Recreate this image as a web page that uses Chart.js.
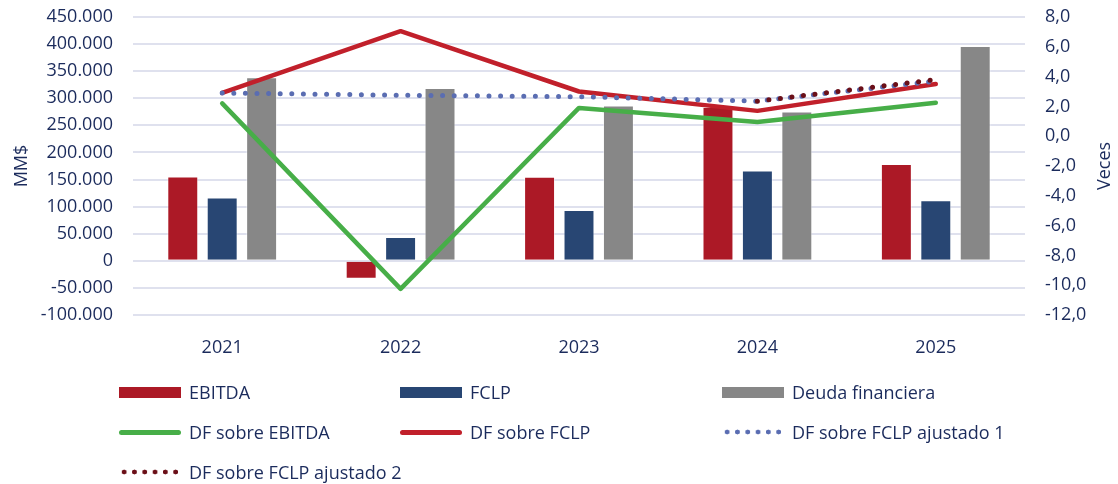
<!DOCTYPE html>
<html>
<head>
<meta charset="utf-8">
<script src="https://cdn.jsdelivr.net/npm/chart.js@4.4.1/dist/chart.umd.min.js"></script>
<style>
  html, body { margin: 0; padding: 0; background: #fff; }
  #wrap { position: relative; width: 1118px; height: 484px; overflow: hidden; }
  #legend { position: absolute; left: 0; top: 0; width: 1118px; height: 484px; pointer-events: none;
            font-family: "Open Sans", sans-serif; font-size: 18px; color: #1b2b5c; }
  .item { position: absolute; display: flex; align-items: center; height: 24px; }
  .swatch { width: 62px; margin-right: 8px; }
</style>
</head>
<body>
<div id="wrap">
  <canvas id="chart" width="1118" height="484"></canvas>
  <div id="legend"></div>
</div>
<script>
const years = ['2021', '2022', '2023', '2024', '2025'];
const ebitda = [155500, -33000, 155000, 284000, 178500];
const fclp = [117000, 44000, 94000, 166500, 112000];
const deudaFinanciera = [339000, 319000, 286500, 275500, 396500];
const dfSobreEbitda = [2.2, -10.25, 1.9, 0.95, 2.25];
const dfSobreFclp = [2.9, 7.05, 3.0, 1.7, 3.5];
const dfSobreFclpAjustado1 = [2.9, 2.75, 2.65, 2.35, 3.7];
const dfSobreFclpAjustado2 = [null, null, null, 2.35, 3.8];

const textColor = '#1b2b5c';
const font = { family: '"Open Sans", sans-serif', size: 18 };

function miles(v) {
    return String(v).replace(/\B(?=(\d{3})+(?!\d))/g, '.');
}

// axis titles, both read bottom to top
const axisTitles = {
    id: 'axisTitles',
    afterDraw(chart) {
        const ctx = chart.ctx;
        const area = chart.chartArea;
        const midY = (area.top + area.bottom) / 2;
        ctx.save();
        ctx.fillStyle = textColor;
        ctx.font = '18px "Open Sans", sans-serif';
        ctx.textAlign = 'center';
        ctx.textBaseline = 'middle';
        [['MM$', 22], ['Veces', 1105]].forEach(([t, x]) => {
            ctx.save();
            ctx.translate(x, midY);
            ctx.rotate(-Math.PI / 2);
            ctx.fillText(t, 0, 0);
            ctx.restore();
        });
        ctx.restore();
    }
};

const bar = (label, data, color) => ({
    type: 'bar', label: label, data: data, yAxisID: 'y',
    backgroundColor: color, borderColor: 'rgba(255,255,255,0.5)', borderWidth: 1,
    categoryPercentage: 0.663, barPercentage: 0.785, order: 10
});
const line = (label, data, color, dotted, order) => ({
    type: 'line', label: label, data: data, yAxisID: 'y1',
    borderColor: color, backgroundColor: color,
    borderWidth: dotted ? 5 : 4.5,
    borderDash: dotted ? [0, 11.6] : [],
    borderCapStyle: 'round', borderJoinStyle: 'round',
    pointRadius: 0, tension: 0, spanGaps: false, order: order,
    dotted: dotted
});

const datasets = [
    bar('EBITDA', ebitda, '#ac1926'),
    bar('FCLP', fclp, '#284673'),
    bar('Deuda financiera', deudaFinanciera, '#878787'),
    line('DF sobre EBITDA', dfSobreEbitda, '#47ae48', false, 4),
    line('DF sobre FCLP', dfSobreFclp, '#c1202b', false, 3),
    line('DF sobre FCLP ajustado 1', dfSobreFclpAjustado1, '#5a6db2', true, 2),
    line('DF sobre FCLP ajustado 2', dfSobreFclpAjustado2, '#6b0f18', true, 1)
];

const chart = new Chart(document.getElementById('chart'), {
    data: { labels: years, datasets: datasets },
    options: {
        responsive: false,
        animation: false,
        layout: { padding: { top: 17, bottom: 124, left: 0, right: 0 } },
        plugins: { legend: { display: false }, tooltip: { enabled: false } },
        scales: {
            x: {
                grid: { display: false },
                border: { display: false },
                ticks: { color: textColor, font: font, padding: 14 },
                afterFit: s => { s.height = 45; }
            },
            y: {
                position: 'left',
                min: -100000, max: 450000,
                grid: { color: '#dfe1ee', lineWidth: 2, tickColor: 'rgba(0,0,0,0)', tickLength: 20 },
                border: { display: false },
                ticks: { stepSize: 50000, color: textColor, font: font, padding: 0, callback: v => miles(v) },
                afterFit: s => { s.width = 133; }
            },
            y1: {
                position: 'right',
                min: -12, max: 8,
                grid: { drawOnChartArea: false, color: 'rgba(0,0,0,0)', tickLength: 20 },
                border: { display: false },
                ticks: { stepSize: 2, color: textColor, font: font, padding: 0,
                         callback: v => v.toFixed(1).replace('.', ',') },
                afterFit: s => { s.width = 93; }
            }
        }
    },
    plugins: [axisTitles]
});

// legend, three columns
const cols = [119, 400, 722];
const rows = [392, 432, 472];
const legend = document.getElementById('legend');
datasets.forEach((d, i) => {
    const item = document.createElement('div');
    item.className = 'item';
    item.style.left = cols[i % 3] + 'px';
    item.style.top = (rows[Math.floor(i / 3)] - 12) + 'px';
    const sw = document.createElement('div');
    sw.className = 'swatch';
    if (d.type === 'bar') {
        sw.style.height = '11px';
        sw.style.background = d.backgroundColor;
    } else if (d.dotted) {
        sw.style.height = '6px';
        sw.style.background = 'radial-gradient(circle, ' + d.borderColor + ' 2.2px, transparent 2.7px)';
        sw.style.backgroundSize = '10.3px 6px';
    } else {
        sw.style.height = '5px';
        sw.style.borderRadius = '3px';
        sw.style.background = d.borderColor;
    }
    const tx = document.createElement('span');
    tx.textContent = d.label;
    item.appendChild(sw);
    item.appendChild(tx);
    legend.appendChild(item);
});
</script>
</body>
</html>
